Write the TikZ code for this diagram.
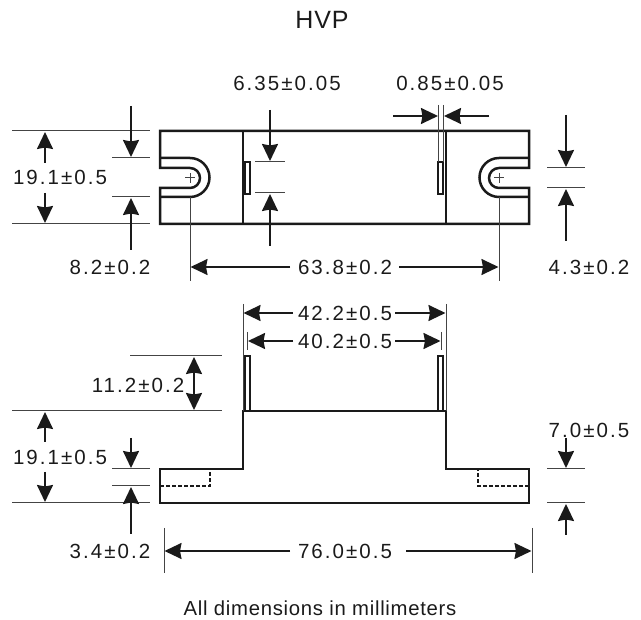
\documentclass[tikz,border=0pt]{standalone}
\usepackage{fontspec}
\setmainfont{Liberation Sans}
\newfontfamily\dimfont[LetterSpace=10]{Liberation Sans}
\newfontfamily\notefont[LetterSpace=3.5]{Liberation Sans}
\usetikzlibrary{arrows.meta}
\definecolor{inkblack}{HTML}{1A1A1A}
\definecolor{thingray}{HTML}{444444}
\tikzset{
    outline/.style={draw=inkblack, line width=2.5pt, line join=miter},
    pinline/.style={draw=inkblack, line width=1.8pt},
    extline/.style={draw=thingray, line width=1pt},
    dimarrow/.style={draw=inkblack, line width=1.7pt, -{Stealth[length=17pt,width=16pt,inset=1.5pt]}},
    dimboth/.style={draw=inkblack, line width=1.7pt, {Stealth[length=17pt,width=16pt,inset=1.5pt]}-{Stealth[length=17pt,width=16pt,inset=1.5pt]}},
    hidden/.style={draw=inkblack, line width=2.4pt, dash pattern=on 4pt off 2pt},
    dimtext/.style={font=\fontsize{20.5}{20.5}\dimfont, text=inkblack, inner sep=0pt},
}
\newcommand{\pmval}[2]{#1±#2}
\begin{document}
\begin{tikzpicture}[x=1pt,y=-1pt]
    \useasboundingbox (0,0) rectangle (641,620);
    % Titulos
    \node[font=\fontsize{25}{25}\notefont, text=inkblack, inner sep=0pt] (title) at (322,20) {HVP};
    \node[font=\fontsize{20.3}{20.3}\notefont, text=inkblack, inner sep=0pt] (footer) at (320,608) {All dimensions in millimeters};
    % Vista superior
    \draw[outline] (160,168) -- (190,168) arc (-90:90:10) -- (160,188) -- (160,224) -- (529,224)
        -- (529,188) -- (499,188) arc (90:270:10) -- (529,168) -- (529,131) -- (160,131) -- cycle;
    \draw[outline] (160,158) -- (190,158) arc (-90:90:19.5) -- (160,197);
    \draw[outline] (529,158) -- (499,158) arc (270:90:19.5) -- (529,197);
    \draw[outline] (243,131) -- (243,224);
    \draw[outline] (446,131) -- (446,224);
    \draw[pinline] (245,162) rectangle (250,194);
    \draw[pinline] (438,162) rectangle (443,194);
    \draw[extline] (185,178) -- (195,178) (190,173) -- (190,183);
    \draw[extline] (494,178) -- (504,178) (499,173) -- (499,183);
    \draw[extline] (190,197) -- (190,281);
    \draw[extline] (499,197) -- (499,281);
    % Cota 19.1 superior
    \draw[extline] (12,131) -- (150,131);
    \draw[extline] (12,224) -- (150,224);
    \node[dimtext] (widthtop) at (60,177) {\pmval{19.1}{0.5}};
    \draw[dimarrow] (45,163) -- (45,132);
    \draw[dimarrow] (45,193) -- (45,223);
    % Cota 8.2
    \draw[extline] (112,158) -- (150,158);
    \draw[extline] (112,197) -- (150,197);
    \node[dimtext] (slotout) at (110,267) {\pmval{8.2}{0.2}};
    \draw[dimarrow] (131,106) -- (131,157);
    \draw[dimarrow] (131,250) -- (131,198);
    % Cota 6.35
    \node[dimtext] (pinlen) at (287,83) {\pmval{6.35}{0.05}};
    \draw[extline] (255,162) -- (285,162);
    \draw[extline] (255,193) -- (285,193);
    \draw[dimarrow] (270,110) -- (270,161);
    \draw[dimarrow] (270,246) -- (270,194);
    % Cota 0.85
    \node[dimtext] (pinthick) at (450,83) {\pmval{0.85}{0.05}};
    \draw[extline] (438.7,105) -- (438.7,162);
    \draw[extline] (443.3,105) -- (443.3,162);
    \draw[dimarrow] (393,116) -- (438,116);
    \draw[dimarrow] (489,116) -- (444,116);
    % Cota 4.3
    \node[dimtext] (slotin) at (589,267) {\pmval{4.3}{0.2}};
    \draw[extline] (547,168) -- (585,168);
    \draw[extline] (547,188) -- (585,188);
    \draw[dimarrow] (566,115) -- (566,167);
    \draw[dimarrow] (566,241) -- (566,189);
    % Cota 63.8
    \node[dimtext] (holes) at (345,267) {\pmval{63.8}{0.2}};
    \draw[dimarrow] (290,267) -- (190.5,267);
    \draw[dimarrow] (399,267) -- (498.5,267);
    % Vista lateral
    \draw[outline] (160,469) -- (243,469) -- (243,411) -- (446,411) -- (446,469) -- (529,469)
        -- (529,503) -- (160,503) -- cycle;
    \draw[pinline] (245,411) -- (245,356) -- (250,356) -- (250,411);
    \draw[pinline] (438,411) -- (438,356) -- (443,356) -- (443,411);
    \draw[hidden] (160,486) -- (210,486) -- (210,469);
    \draw[hidden] (529,486) -- (478,486) -- (478,469);
    % Cota 42.2
    \draw[extline] (243,304) -- (243,411);
    \draw[extline] (446,304) -- (446,411);
    \node[dimtext] (outerpins) at (345,313) {\pmval{42.2}{0.5}};
    \draw[dimarrow] (293,313) -- (243.5,313);
    \draw[dimarrow] (395,313) -- (445.5,313);
    % Cota 40.2
    \draw[extline] (247.5,332) -- (247.5,350);
    \draw[extline] (441,332) -- (441,350);
    \node[dimtext] (innerpins) at (345,341) {\pmval{40.2}{0.5}};
    \draw[dimarrow] (293,341) -- (248,341);
    \draw[dimarrow] (395,341) -- (440.5,341);
    % Cota 11.2
    \draw[extline] (130,356) -- (222,356);
    \draw[extline] (12,411) -- (222,411);
    \node[dimtext] (pinheight) at (138,385) {\pmval{11.2}{0.2}};
    \draw[dimboth] (194,357) -- (194,410);
    % Cota 19.1 inferior
    \draw[extline] (12,503) -- (150,503);
    \node[dimtext] (widthlow) at (60,457) {\pmval{19.1}{0.5}};
    \draw[dimarrow] (45,442) -- (45,412);
    \draw[dimarrow] (45,472) -- (45,502);
    % Cota 3.4
    \draw[extline] (112,469) -- (150,469);
    \draw[extline] (112,486) -- (150,486);
    \node[dimtext] (flange) at (110,551) {\pmval{3.4}{0.2}};
    \draw[dimarrow] (131,438) -- (131,468);
    \draw[dimarrow] (131,534) -- (131,487);
    % Cota 7.0
    \draw[extline] (547,469) -- (585,469);
    \draw[extline] (547,503) -- (585,503);
    \node[dimtext] (base) at (589,430) {\pmval{7.0}{0.5}};
    \draw[dimarrow] (566,438) -- (566,468);
    \draw[dimarrow] (566,535) -- (566,504);
    % Cota 76.0
    \draw[extline] (164,528) -- (164,573);
    \draw[extline] (532,528) -- (532,573);
    \node[dimtext] (overall) at (345,551) {\pmval{76.0}{0.5}};
    \draw[dimarrow] (290,551) -- (164.5,551);
    \draw[dimarrow] (406,551) -- (531.5,551);
\end{tikzpicture}
\end{document}
